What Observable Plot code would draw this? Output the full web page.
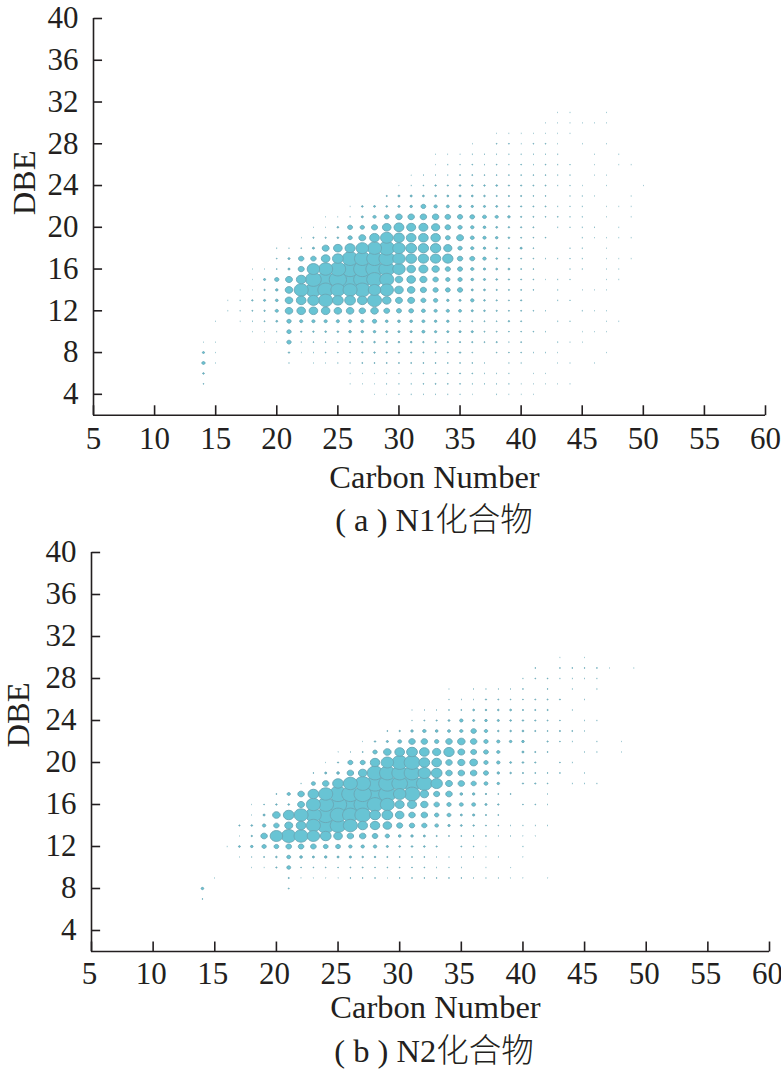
<!DOCTYPE html>
<html><head><meta charset="utf-8">
<script src="https://cdn.jsdelivr.net/npm/d3@7"></script>
<script src="https://cdn.jsdelivr.net/npm/@observablehq/plot@0.6"></script>
<style>
html,body{margin:0;padding:0;background:#fff;width:781px;height:1071px;overflow:hidden}
svg{display:block;position:absolute;left:0;background:transparent}
.cap{position:absolute;left:0;text-align:center;color:#231f20;font:32.5px "Liberation Serif","Noto Sans CJK SC",serif;line-height:36px;white-space:pre}
.cap .cjk{font-family:"Noto Sans CJK SC";font-weight:300}
</style></head><body>
<div id="root"></div>
<script>
const xTicks=[5,10,15,20,25,30,35,40,45,50,55,60];
const yTicks=[4,8,12,16,20,24,28,32,36,40];
const xLabel="Carbon Number", yLabel="DBE";
const captions=["( a ) N1","( b ) N2"], captionCjk="化合物";
// [DBE, first carbon number, dot sizes for successive carbon numbers]
const n1Rows=[
[4,28,[.2,.2,.3,.3,.3,.3,.3,.3,.2,0,.3,.2,.2,.2]],
[5,14,[.4]],[5,26,[.2,.2,.2,.3,.3,.3,.4,.5,.4,.4,.3,.3,.3,.3,.2,.2,.2,.2,.2]],
[6,14,[.8]],[6,26,[.2,.2,.2,.3,.3,.3,.4,.4,.4,.5,.4,.3,.3,.3,0,.2,.2]],
[7,14,[1.5,.2]],[7,21,[.3,0,.2,.2,.3,.3,.5,.5,.5,.5,.5,.5,.5,.4,.4,.4,.3,0,.3,.3,0,0,.2,.2,0,.2]],
[8,14,[1,.2]],[8,21,[.7,.2,.3,.4,.4,.4,.6,.7,.6,.6,.6,.5,.5,.5,.7,.4,0,.4,.4,.4,.3,.3,.2,0,0,0,.2]],
[9,14,[.2,.2]],[9,19,[.2,.2,2,.3,.4,.4,.4,.6,.7,.8,.8,.8,.8,.7,.7,.6,.6,.6,.5,.6,.3,.5,0,0,.3,.2,.2]],
[10,18,[.2,.2,.3,2,.6,.7,.8,.8,1.2,1.2,1.2,1,1,1,1.4,1.1,1,1,1,.5,.5,.4,.4,.4,.3,0,0,.2,.2,.2]],
[11,15,[.2,0,.2,.3,.5,.9,2,1.5,1.5,1.5,1.5,1.5,1.5,2,1.3,1.3,1.3,1.4,1.2,1.2,.6,.6,.5,.4,.7,.5,0,0,.3,.3,0,0,.2,.2]],
[12,16,[.2,.3,.5,.7,1.5,3.5,4,4,4,3.5,3.5,3,3.5,2.7,2.3,2.2,1.8,1.5,1.5,1.4,1,.8,.6,.5,.5,.4,.3,0,0,.3,.2,.2]],
[13,16,[.2,.3,.7,1,1.3,3.5,4.5,5.2,6,5,5,4.5,6,4,3.2,3.2,2.3,2,1.2,1,1.6,.8,.6,.5,.6,0,0,.3,.3]],
[14,17,[.2,.2,.7,1.2,3.5,6,6.5,6.5,6,6,6.5,5.5,5.8,4,3.5,2.8,2.4,2.2,2.4,1,.9,.6,.5,.5,.4,0,.3,0,.2,.2,.2]],
[15,18,[.2,1,2,3.2,4.5,6.5,7,7,8,7,6.5,6,3.5,4,3.3,2.5,2,2,1.3,1,.8,.6,.5,.4,.2,.3,.3,0,0,.2,.2]],
[16,18,[.2,.2,.4,1,2.8,5.5,6,6.5,7,7,7,6.5,5.5,4,4.2,3.4,2.4,2.3,1.5,1.1,.9,.9,.5,.4,0,0,.3,.3,0,.2,.2]],
[17,20,[.4,1,2.5,2.5,4,5,6.5,6.5,6.5,6.5,5.5,5,4.8,4.8,4.8,2.5,2.3,1.6,.8,.6,.5,.4,.3,.3,.3,.3,0,.2,.2,.2]],
[18,20,[.3,.3,.4,1,3.2,4,4.7,5.5,6,6.5,5.5,5,4.8,4.8,3.8,2,1.5,1.2,.9,.5,1,.4,0,0,.3,.3,0,.2]],
[19,22,[.2,.6,.6,.8,2,3.2,4.5,5.5,5,4.5,4.5,4.4,2.2,3.2,1.8,1.5,1.2,.8,.5,.4,.4,0,0,.3,.2,.2,.2,.2]],
[20,23,[.2,.2,.8,2.3,2,2.8,4,4.6,4.2,4.2,3.8,2.6,2,1.6,1.3,.9,.7,.6,.5,0,.3,.3,.3,.3,0,.2]],
[21,24,[.2,.2,.3,1,1.5,2.2,3,3,3,3,2.6,2.4,2.2,1.8,1.5,1.2,.6,.5,.4,.4,.3,.3,0,.2,0,.2]],
[22,26,[.2,.8,.9,.8,1,1.2,2.2,1.6,1.4,1.3,1.1,1,.9,.7,.6,.5,.5,.3,.3,.3,0,.2,.2,.2]],
[23,29,[.6,1,1,.9,.9,.9,1,.9,.8,.6,.6,.6,.4,.4,0,.3,.3,.2,0,0,.2]],
[24,30,[.2,.3,.4,.7,.6,.8,.7,.7,.8,.6,.6,.5,.5,.3,.3,.2,0,.2,0,0,.2]],
[25,31,[.2,.3,.3,.3,.5,.5,.4,.4,.4,.4,.4,.4,.3,.3,0,.2,.2]],
[26,33,[.2,.3,.3,.4,.3,.4,.3,.4,.3,.4,.3,.3,0,.2,0,.2,.2]],
[27,33,[.2,.2,.2,.3,.3,.3,.3,.3,.3,.3,.3,0,0,.2,0,.2]],
[28,36,[.2,0,.4,.4,.2,.4,.4,.2,0,.2,0,.2]],
[29,38,[.2,.2,.2,.2,.2,.2,.2]],
[30,42,[.2,.2,.2,.2,.2,.2]],
[31,43,[.2,.2,0,0,.2]]
];
const n2Rows=[
[7,14,[.4]],
[8,14,[1.2]],[8,21,[.5]],
[9,15,[.2]],[9,21,[.6,.2,.2,.2,.2,.4,.4,.4,.2,.4,.4,.4,.4,.4,.4,.3,.3,.3,.2,.2,0,.2]],
[10,18,[.2,.2,.6,1.8,.4,.4,.4,.4,.5,.5,.4,.4,.4,.4,.4,.3,.3,.3,0,.2,0,.2]],
[11,17,[.2,.3,.5,.8,1.8,1.3,1,1.2,1,1.1,.8,.8,.6,.5,.5,.5,.3,.3,.3,.3,.2,.3,0,.2]],
[12,16,[.2,.9,1.2,2,2.2,2.6,2.6,2.6,2.2,2.2,1.6,1.6,1.6,1,.8,.8,.8,.6,0,.5,.4,.2,0,0,.3]],
[13,17,[.2,.7,3,5.5,6.2,6,5.5,5,4,3,3,2.6,2,1.3,1.2,1,.6,.5,.5,.4,.4,.3,.3,.2,.2]],
[14,17,[.6,.8,1.6,2.5,3.7,4.5,6,7,6.5,6,4.5,4.4,4,2.8,2.5,2.4,1.7,1.1,.9,.7,.5,.4,.3,.3,.3,.3]],
[15,18,[.2,1,3.5,5,6,6.5,7,6.5,6.5,6.5,5,5,4,3,3,2,1.8,1,1.1,.6,.5]],
[16,18,[.2,.4,.7,.8,3.2,6,6.5,7,8,7,6.5,6,4.2,4.2,3.4,2.5,2,1.8,1.8,1,.7,0,.4,.4,.3]],
[17,20,[.5,1.5,3,5,6,7,7,7,8,7,5.5,6.5,4,2.8,3,1.3,1.2,.7,.5,.5,0,0,.3]],
[18,22,[.3,1.9,3,5,6,6.5,7,7,6.5,7,6.5,5.2,3.2,3,2.4,1.8,1.2,0,.6,.6,.4,0,.3,.3,.3]],
[19,23,[.4,1,1.3,3,4,6.5,6.5,6.5,6.5,5.5,5,3,3,3,2.3,1.2,.8,.6,.5,.4,.4,0,.3]],
[20,24,[.2,.6,2.3,2.3,4.4,5.5,6.5,6.5,5,4.5,3,3.3,3.6,2,1.6,.9,.8,.6,0,.4,.3]],
[21,25,[.2,.3,.5,2,3.5,4.5,5,4.5,3.8,4.8,3.2,2.7,2.2,1.5,0,1,.6,.5,0,0,.3,.3,0,.2]],
[22,27,[.2,.7,1,1.8,3,3,2,3,3.5,3,2,1.5,1.2,1.2,0,.6,.4,.3,0,.3,0,.2]],
[23,29,[.5,.7,1.2,1.6,1.3,1.4,1.5,2.5,1.6,.8,.8,.9,.6,.5,.6,.5,.3]],
[24,31,[.3,.5,.6,.9,1.6,1,1.2,1,.8,.7,.6,.5,.4,0,.3,.3]],
[25,31,[.2,.3,.3,.4,.5,.9,.8,.8,.9,.6,.6,.6,0,.3]],
[26,34,[.3,.3,.3,.6,.5,.4,.4,.5,.5,.5,0,.3]],
[27,34,[.2,0,.3,.3,.3,.3,.4,0,.4,0,.3,0,.3]],
[28,40,[.3,.4,.4,.3,.3,.3,.3]],
[29,41,[.4,0,.4,.4,.4,.4,.2,0,.2]],
[30,43,[.2,0,.2]]
];
const toDots=rows=>rows.flatMap(([dbe,c0,sizes])=>sizes.map((s,i)=>({carbon:c0+i,dbe,size:s})).filter(d=>d.size>0)).sort((a,b)=>a.size-b.size);
// slightly wide ellipse, as the source figure's dots are
const wide={draw(ctx,size){const r=Math.sqrt(size/Math.PI),rx=r*1.08,ry=r*0.95,k=0.5523;
  ctx.moveTo(rx,0);
  ctx.bezierCurveTo(rx,k*ry,k*rx,ry,0,ry);
  ctx.bezierCurveTo(-k*rx,ry,-rx,k*ry,-rx,0);
  ctx.bezierCurveTo(-rx,-k*ry,-k*rx,-ry,0,-ry);
  ctx.bezierCurveTo(k*rx,-ry,rx,-k*ry,rx,0);ctx.closePath();}};
const ink="#231f20", font='"Liberation Serif",serif', fs=31;
function panel(rows,o){
  return Plot.plot({
    width:781,height:o.h,marginTop:o.top,marginBottom:o.h-o.bottom,marginLeft:o.left,marginRight:781-o.right,
    style:{fontFamily:font,fontSize:fs+"px",color:ink,background:"transparent",overflow:"visible"},
    x:{domain:[5,60],axis:null},
    y:{domain:[2,40],axis:null},
    r:{type:"linear",domain:[0,5,8],range:[0,5,9.5]},
    marks:[
      Plot.dot(toDots(rows),{x:"carbon",y:"dbe",r:"size",symbol:wide,fill:"#68c4d4",stroke:"#6aa6b4",strokeWidth:.9}),
      Plot.ruleX([5],{stroke:ink,strokeWidth:1.6}),
      Plot.ruleY([2],{stroke:ink,strokeWidth:1.6}),
      Plot.axisX({ticks:xTicks,tickSize:0,tickPadding:o.xPad,tickFormat:d=>d,fontSize:fs,dx:o.xDx,label:null,fill:ink}),
      Plot.axisY({ticks:yTicks,tickSize:0,tickPadding:15,tickFormat:d=>d,fontSize:fs,label:null,fill:ink}),
      Plot.text([xLabel],{frameAnchor:"bottom",dx:5,dy:o.xLabelDy,fontSize:32.5,fill:ink,fontFamily:font}),
      Plot.text([yLabel],{frameAnchor:"left",textAnchor:"middle",rotate:-90,dx:o.yLabelDx,dy:o.yLabelDy,fontSize:32.5,fill:ink,fontFamily:font}),
      Plot.link(xTicks,{x1:d=>d,x2:d=>d,y1:()=>2,y2:()=>2.95,stroke:"#231f21",strokeWidth:1.6}),
      Plot.link(yTicks,{x1:()=>5,x2:()=>5.7,y1:d=>d,y2:d=>d,stroke:"#231f21",strokeWidth:1.6})
    ]
  });
}
const root=document.getElementById("root");
function place(el,top){el.style.top=top+"px";root.appendChild(el);}
place(panel(n1Rows,{h:500,top:18,bottom:414.7,left:93,right:765,xPad:12,xDx:0,xLabelDy:73,yLabelDx:-69,yLabelDy:-34}),0);
place(panel(n2Rows,{h:500,top:18,bottom:417,left:91,right:769,xPad:10,xDx:-2,xLabelDy:66,yLabelDx:-73,yLabelDy:-37}),534);
captions.forEach((t,i)=>{const d=document.createElement("div");d.className="cap";d.innerHTML=t+'<span class="cjk">'+captionCjk+'</span>';d.style.top=[499,1030][i]+"px";d.style.left="87px";d.style.width="694px";root.appendChild(d);});
</script>
</body></html>
